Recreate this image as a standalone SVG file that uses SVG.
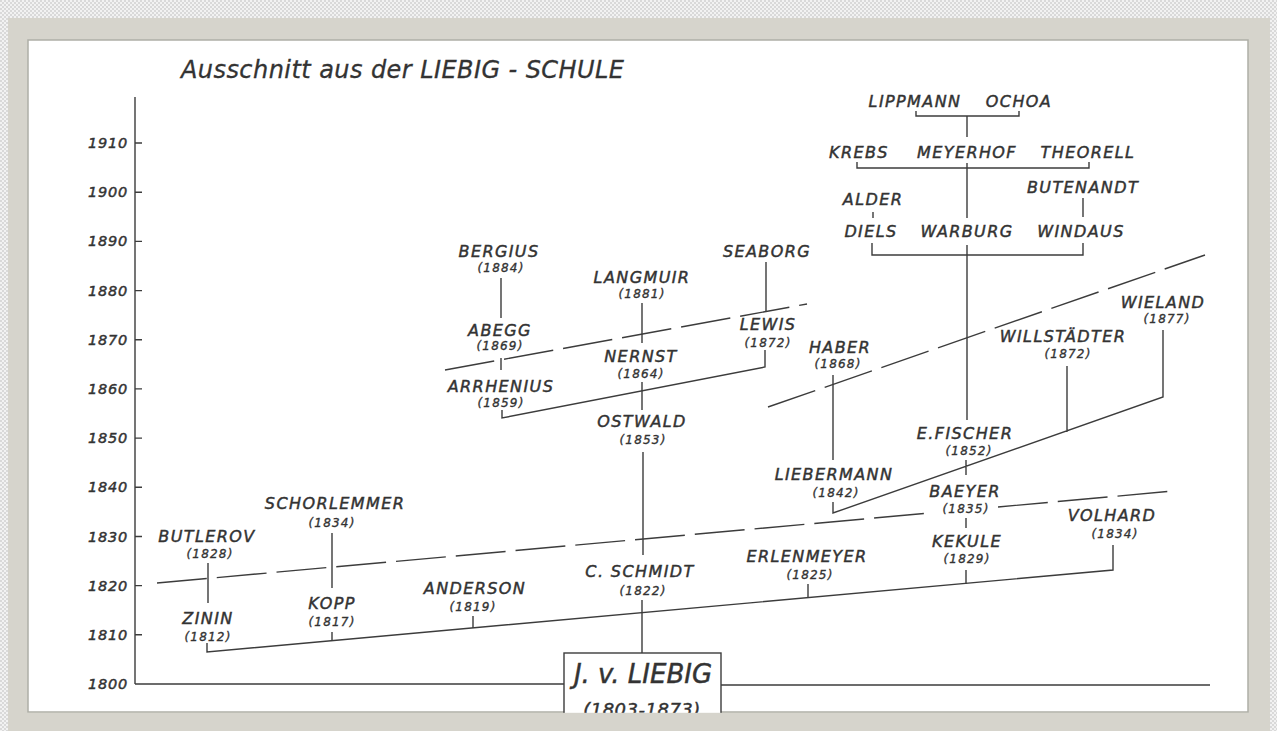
<svg xmlns="http://www.w3.org/2000/svg" width="1277" height="731" viewBox="0 0 1277 731">
<defs>
<pattern id="chk" width="4" height="4" patternUnits="userSpaceOnUse">
<rect width="4" height="4" fill="#f2f2f2"/>
<rect width="2" height="2" fill="#d9d9d9"/>
<rect x="2" y="2" width="2" height="2" fill="#d9d9d9"/>
</pattern>
<style>
.ln{stroke:#3c3c3c;stroke-width:1.4;fill:none}
.ds{stroke-dasharray:50 10}
text{font-family:"DejaVu Sans","Liberation Sans",sans-serif;font-style:oblique;fill:#333;stroke:#333;stroke-width:0.45}
.n{font-size:16px;letter-spacing:1.4px;text-anchor:middle}
.y{font-size:12px;letter-spacing:1.2px;text-anchor:middle;stroke-width:0.35}
.ax{font-size:14.5px;letter-spacing:0.8px;text-anchor:end}
.frame{fill:#d6d4cc}
</style>
</defs>
<rect width="1277" height="731" fill="url(#chk)"/>
<rect class="frame" x="8" y="18" width="1262" height="713"/>
<rect x="28" y="40" width="1220" height="672" fill="#ffffff" stroke="#aeaea6" stroke-width="1.5"/>

<text x="181" y="78" font-size="24" textLength="443" style="stroke-width:0.3" fill="#444">Ausschnitt aus der LIEBIG - SCHULE</text>

<g id="axis">
<path class="ln" d="M135,97 V684 M135,684 H564 M721,685 H1210"/>
<path class="ln" d="M135,143 h7 M135,192.2 h7 M135,241.4 h7 M135,290.6 h7 M135,339.7 h7 M135,388.9 h7 M135,438.1 h7 M135,487.3 h7 M135,536.5 h7 M135,585.6 h7 M135,634.8 h7"/>
<text class="ax" x="128" y="148">1910</text>
<text class="ax" x="128" y="197">1900</text>
<text class="ax" x="128" y="246">1890</text>
<text class="ax" x="128" y="296">1880</text>
<text class="ax" x="128" y="345">1870</text>
<text class="ax" x="128" y="394">1860</text>
<text class="ax" x="128" y="443">1850</text>
<text class="ax" x="128" y="492">1840</text>
<text class="ax" x="128" y="542">1830</text>
<text class="ax" x="128" y="591">1820</text>
<text class="ax" x="128" y="640">1810</text>
<text class="ax" x="128" y="689">1800</text>
</g>

<g id="connectors">
<path class="ln" d="M207,643 V652 L1113,570 V545"/>
<path class="ln" d="M332,632 V641 M473,616 V628 M808,584 V598 M966,570 V584"/>
<path class="ln" d="M208,563 V603 M332,533 V588 M642,600 V653 M643,452 V555 M642,382 V410 M642,303 V343 M501,278 V318 M501,358 V370"/>
<path class="ln" d="M502,410 V418 L765,367 V350 M766,262 V312"/>
<path class="ln" d="M833,375 V460 M833,502 V513 L1163,397 V330 M1067,366 V432 M966,460 V475 M966,518 V528"/>
<path class="ln" d="M967,245 V420 M872,243 V255 H1083 V243 M873,212 V218 M1083,198 V217 M967,163 V218 M857,162 V168 H1089 V162 M967,116 V137 M916,111 V116 H1019 V111"/>
<path class="ln ds" d="M157,583 L930,513 M998,507 L1173,491"/>
<path class="ln ds" d="M445,370 L807,304"/>
<path class="ln ds" d="M768,407 L1205,255"/>
</g>

<g id="liebig">
<rect x="564" y="653" width="157" height="70" fill="#fff" stroke="#3c3c3c" stroke-width="1.4"/>
<text x="643" y="683" font-size="26" text-anchor="middle">J. v. LIEBIG</text>
<text x="642" y="716" font-size="18" letter-spacing="0.5" text-anchor="middle">(1803-1873)</text>
</g>

<g id="lippmann"><text class="n" x="915" y="107">LIPPMANN</text></g>
<g id="ochoa"><text class="n" x="1019" y="107">OCHOA</text></g>
<g id="krebs"><text class="n" x="859" y="158">KREBS</text></g>
<g id="meyerhof"><text class="n" x="967" y="158">MEYERHOF</text></g>
<g id="theorell"><text class="n" x="1088" y="158">THEORELL</text></g>
<g id="butenandt"><text class="n" x="1083" y="193">BUTENANDT</text></g>
<g id="alder"><text class="n" x="873" y="205">ALDER</text></g>
<g id="diels"><text class="n" x="871" y="237">DIELS</text></g>
<g id="warburg"><text class="n" x="967" y="237">WARBURG</text></g>
<g id="windaus"><text class="n" x="1081" y="237">WINDAUS</text></g>
<g id="bergius"><text class="n" x="499" y="257">BERGIUS</text><text class="y" x="501" y="272">(1884)</text></g>
<g id="seaborg"><text class="n" x="767" y="257">SEABORG</text></g>
<g id="langmuir"><text class="n" x="642" y="283">LANGMUIR</text><text class="y" x="642" y="298">(1881)</text></g>
<g id="abegg"><text class="n" x="500" y="336">ABEGG</text><text class="y" x="500" y="350">(1869)</text></g>
<g id="lewis"><text class="n" x="768" y="330">LEWIS</text><text class="y" x="768" y="347">(1872)</text></g>
<g id="nernst"><text class="n" x="641" y="362">NERNST</text><text class="y" x="641" y="378">(1864)</text></g>
<g id="arrhenius"><text class="n" x="501" y="392">ARRHENIUS</text><text class="y" x="501" y="407">(1859)</text></g>
<g id="haber"><text class="n" x="840" y="353">HABER</text><text class="y" x="838" y="368">(1868)</text></g>
<g id="willstaedter"><text class="n" x="1063" y="342">WILLSTÄDTER</text><text class="y" x="1068" y="358">(1872)</text></g>
<g id="wieland"><text class="n" x="1163" y="308">WIELAND</text><text class="y" x="1167" y="323">(1877)</text></g>
<g id="ostwald"><text class="n" x="642" y="427">OSTWALD</text><text class="y" x="643" y="444">(1853)</text></g>
<g id="fischer"><text class="n" x="965" y="439">E.FISCHER</text><text class="y" x="969" y="455">(1852)</text></g>
<g id="liebermann"><text class="n" x="834" y="480">LIEBERMANN</text><text class="y" x="836" y="497">(1842)</text></g>
<g id="baeyer"><text class="n" x="965" y="497">BAEYER</text><text class="y" x="966" y="513">(1835)</text></g>
<g id="schorlemmer"><text class="n" x="335" y="509">SCHORLEMMER</text><text class="y" x="332" y="527">(1834)</text></g>
<g id="volhard"><text class="n" x="1112" y="521">VOLHARD</text><text class="y" x="1115" y="538">(1834)</text></g>
<g id="butlerov"><text class="n" x="207" y="542">BUTLEROV</text><text class="y" x="210" y="558">(1828)</text></g>
<g id="kekule"><text class="n" x="967" y="547">KEKULE</text><text class="y" x="967" y="563">(1829)</text></g>
<g id="erlenmeyer"><text class="n" x="807" y="562">ERLENMEYER</text><text class="y" x="810" y="579">(1825)</text></g>
<g id="schmidt"><text class="n" x="640" y="577">C. SCHMIDT</text><text class="y" x="643" y="595">(1822)</text></g>
<g id="anderson"><text class="n" x="475" y="594">ANDERSON</text><text class="y" x="473" y="611">(1819)</text></g>
<g id="kopp"><text class="n" x="332" y="609">KOPP</text><text class="y" x="332" y="626">(1817)</text></g>
<g id="zinin"><text class="n" x="208" y="624">ZININ</text><text class="y" x="208" y="641">(1812)</text></g>

<rect class="frame" x="8" y="712.8" width="1262" height="19"/>
</svg>
